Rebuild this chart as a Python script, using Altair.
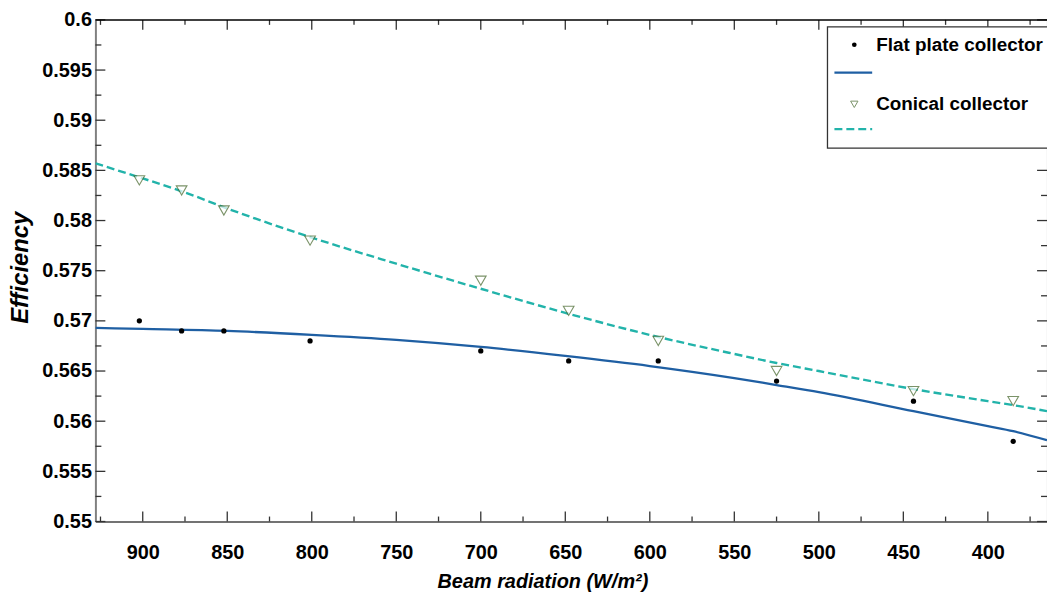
import altair as alt
import pandas as pd

# ---- data ----
beam = [902, 877, 852, 801, 700, 648, 595, 525, 444, 385]
flat_eff = [0.570, 0.569, 0.569, 0.568, 0.567, 0.566, 0.566, 0.564, 0.562, 0.558]
conical_eff = [0.584, 0.583, 0.581, 0.578, 0.574, 0.571, 0.568, 0.565, 0.563, 0.562]

flat_fit_x = [928, 900, 850, 800, 750, 700, 650, 600, 550, 525, 500, 444, 400, 385, 365]
flat_fit_y = [0.5693, 0.5692, 0.5690, 0.5686, 0.5681, 0.5674, 0.5665, 0.5655, 0.5643,
              0.5636, 0.5629, 0.5610, 0.5595, 0.5590, 0.5581]
con_fit_x = [928, 900, 875, 850, 800, 750, 700, 650, 600, 550, 525, 500, 444, 400, 385, 365]
con_fit_y = [0.5857, 0.5842, 0.5828, 0.5812, 0.5783, 0.5757, 0.5732, 0.5708, 0.5686,
             0.5667, 0.5658, 0.5650, 0.5632, 0.5620, 0.5616, 0.5610]

x_major = [900, 850, 800, 750, 700, 650, 600, 550, 500, 450, 400]
x_minor = [925, 875, 825, 775, 725, 675, 625, 575, 525, 475, 425, 375]
y_major = [0.55, 0.555, 0.56, 0.565, 0.57, 0.575, 0.58, 0.585, 0.59, 0.595, 0.6]
y_minor = [0.5525, 0.5575, 0.5625, 0.5675, 0.5725, 0.5775, 0.5825, 0.5875, 0.5925, 0.5975]

series_names = ["Flat plate collector", "Conical collector"]

W, H = 958, 505
FONT = "Liberation Sans, Arial, sans-serif"
BLUE = "#1f5fa3"
TEAL = "#22b3aa"
OLIVE = "#44662a"

xs = alt.Scale(domain=[365, 928], reverse=True, nice=False, zero=False)
ys = alt.Scale(domain=[0.55, 0.6], nice=False, zero=False)

pts = pd.DataFrame({"x": beam, "flat": flat_eff, "conical": conical_eff})
flat_fit = pd.DataFrame({"x": flat_fit_x, "y": flat_fit_y})
con_fit = pd.DataFrame({"x": con_fit_x, "y": con_fit_y})

xaxis = alt.Axis(values=x_major, format="d", ticks=False, grid=False,
                 labelFont=FONT, labelFontSize=20, labelFontWeight="bold", labelColor="black",
                 labelPadding=21, domainColor="#444444", domainWidth=1.5,
                 title="Beam radiation (W/m²)", titleFont=FONT, titleFontSize=20,
                 titleFontWeight="bold", titleFontStyle="italic", titleColor="black",
                 titleX=450, titleY=66, titleAnchor="middle", titleBaseline="alphabetic")
yaxis = alt.Axis(values=y_major, format="~g", ticks=False, grid=False,
                 labelFont=FONT, labelFontSize=20, labelFontWeight="bold", labelColor="black",
                 labelPadding=4, domainColor="#808080", domainWidth=2,
                 title="Efficiency", titleFont=FONT, titleFontSize=24,
                 titleFontWeight="bold", titleFontStyle="italic", titleColor="black",
                 titleX=-75, titleY=249, titleAngle=-90, titleAlign="center", titleBaseline="middle")

base_x = alt.X("x:Q", scale=xs, axis=xaxis)

flat_line = alt.Chart(flat_fit).mark_line(color=BLUE, strokeWidth=2.3, clip=True,
                                          interpolate="monotone").encode(
    x=base_x, y=alt.Y("y:Q", scale=ys, axis=yaxis))
con_line = alt.Chart(con_fit).mark_line(color=TEAL, strokeWidth=2.4, strokeDash=[8, 4], clip=True,
                                        interpolate="monotone").encode(
    x=alt.X("x:Q", scale=xs), y=alt.Y("y:Q", scale=ys))
flat_pts = alt.Chart(pts).mark_circle(color="black", size=28, opacity=1).encode(
    x=alt.X("x:Q", scale=xs), y=alt.Y("flat:Q", scale=ys))
con_pts = alt.Chart(pts).mark_point(shape="triangle-down", color=OLIVE, fill="white",
                                    filled=False, size=115, strokeWidth=1.1).encode(
    x=alt.X("x:Q", scale=xs), y=alt.Y("conical:Q", scale=ys))

# ticks pointing inwards on all four sides
xmaj = pd.DataFrame({"v": x_major})
xmin = pd.DataFrame({"v": x_minor})
ymaj = pd.DataFrame({"v": y_major})
ymin = pd.DataFrame({"v": y_minor})
tick_color = "#333333"

def xticks(df, length):
    bot = alt.Chart(df).mark_rule(color=tick_color, strokeWidth=1.3).encode(
        x=alt.X("v:Q", scale=xs), y=alt.value(H), y2=alt.value(H - length))
    top = alt.Chart(df).mark_rule(color=tick_color, strokeWidth=1.3).encode(
        x=alt.X("v:Q", scale=xs), y=alt.value(0), y2=alt.value(length))
    return [bot, top]

def yticks(df, length):
    left = alt.Chart(df).mark_rule(color=tick_color, strokeWidth=1.3).encode(
        y=alt.Y("v:Q", scale=ys), x=alt.value(0), x2=alt.value(length))
    right = alt.Chart(df).mark_rule(color=tick_color, strokeWidth=1.3).encode(
        y=alt.Y("v:Q", scale=ys), x=alt.value(W), x2=alt.value(W - length))
    return [left, right]

ticks = xticks(xmaj, 10) + xticks(xmin, 5) + yticks(ymaj, 10) + yticks(ymin, 6)

top_border = alt.Chart(pd.DataFrame({"a": [0]})).mark_rule(color="black", strokeWidth=1.5).encode(
    x=alt.value(0), x2=alt.value(W), y=alt.value(0))

# legend box
leg_df = pd.DataFrame({"a": [0]})
leg_box = alt.Chart(leg_df).mark_rect(fill="white", stroke="#333333", strokeWidth=1.3).encode(
    x=alt.value(737), x2=alt.value(W + 20), y=alt.value(7), y2=alt.value(129))
leg_dot = alt.Chart(leg_df).mark_circle(color="black", size=22, opacity=1).encode(
    x=alt.value(764), y=alt.value(25))
leg_tri = alt.Chart(leg_df).mark_point(shape="triangle-down", color=OLIVE, fill="white",
                                       filled=False, size=55, strokeWidth=1).encode(
    x=alt.value(764), y=alt.value(85))
leg_solid = alt.Chart(leg_df).mark_rule(color=BLUE, strokeWidth=2.3).encode(
    x=alt.value(744), x2=alt.value(782), y=alt.value(53))
leg_dash = alt.Chart(leg_df).mark_rule(color=TEAL, strokeWidth=2.4, strokeDash=[8, 4]).encode(
    x=alt.value(744), x2=alt.value(782), y=alt.value(110))
leg_text_df = pd.DataFrame({"label": series_names, "row": [0, 1]})
leg_text = alt.Chart(leg_text_df).mark_text(align="left", baseline="middle", font=FONT,
                                            fontSize=19, fontWeight="bold", color="black").encode(
    x=alt.value(786),
    y=alt.Y("row:Q", scale=alt.Scale(domain=[0, 1], range=[25, 85]), axis=None),
    text="label:N")

chart = alt.layer(
    flat_line, con_line, flat_pts, con_pts, *ticks, top_border,
    leg_box, leg_dot, leg_tri, leg_solid, leg_dash, leg_text
).resolve_scale(y="independent").properties(
    width=W, height=H,
    autosize=alt.AutoSizeParams(type="none"),
    padding={"left": 88, "top": 10, "right": 0, "bottom": 71},
    background="white",
).configure_view(stroke=None)

chart.save("out.html", embed_options={"renderer": "svg", "actions": False})
